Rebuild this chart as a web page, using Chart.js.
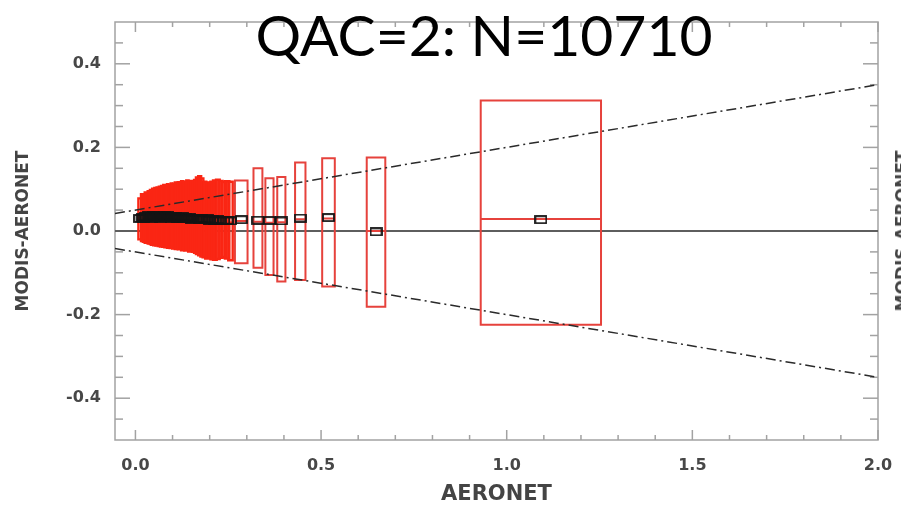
<!DOCTYPE html>
<html>
<head>
<meta charset="utf-8">
<script src="https://cdn.jsdelivr.net/npm/chart.js@4.4.0/dist/chart.umd.min.js"></script>
<style>
  html, body { margin: 0; padding: 0; background: #fff; overflow: hidden; }
  #wrap { position: relative; width: 901px; height: 507px; overflow: hidden; }
  #c { position: absolute; left: 0; top: 0; }
  #title {
    position: absolute; left: 484px; top: 6px; transform: translateX(-50%);
    font-family: Lato, "Open Sans", sans-serif; font-size: 57px; line-height: 57px;
    white-space: nowrap; color: #000;
  }
  #rightLabel {
    position: absolute; left: 902px; top: 231px;
    transform: translate(-50%, -50%) rotate(-90deg);
    font-family: "DejaVu Sans", sans-serif; font-weight: bold; font-size: 17px; line-height: 20px;
    white-space: nowrap; color: #444;
  }
</style>
</head>
<body>
<div id="wrap">
  <canvas id="c" width="901" height="507"></canvas>
  <div id="title">QAC=2: N=10710</div>
  <div id="rightLabel">MODIS-AERONET</div>
</div>
<script>
// Binned MODIS-AERONET differences: mean AERONET AOD of each bin, its spread (±1 sd),
// the mean and median difference, and the box limits of the difference.
const binX = [
  0.012,0.018,0.023,0.027,0.031,0.035,0.038,0.041,0.044,0.047,
  0.050,0.053,0.056,0.059,0.062,0.065,0.068,0.071,0.074,0.077,
  0.080,0.083,0.087,0.090,0.094,0.097,0.101,0.105,0.109,0.113,
  0.117,0.121,0.126,0.130,0.135,0.140,0.145,0.150,0.155,0.161,
  0.167,0.173,0.179,0.186,0.193,0.200,0.207,0.214,0.222,0.230,
  0.238,0.247,0.256,
  0.285,0.330,0.361,0.393,0.444,0.520,0.648,1.092
];
const binXSd = [
  0.004,0.003,0.003,0.002,0.002,0.002,0.002,0.002,0.002,0.002,
  0.002,0.002,0.002,0.002,0.002,0.002,0.002,0.002,0.002,0.002,
  0.002,0.002,0.002,0.002,0.002,0.002,0.002,0.003,0.003,0.003,
  0.003,0.003,0.003,0.003,0.003,0.003,0.003,0.003,0.003,0.003,
  0.004,0.004,0.004,0.005,0.005,0.005,0.005,0.005,0.005,0.005,
  0.006,0.006,0.006,
  0.017,0.012,0.011,0.011,0.014,0.017,0.025,0.162
];
const binYMean = [
  0.030,0.033,0.031,0.034,0.032,0.036,0.033,0.035,0.031,0.034,
  0.036,0.032,0.035,0.033,0.037,0.034,0.031,0.035,0.033,0.036,
  0.032,0.034,0.037,0.033,0.035,0.031,0.034,0.032,0.035,0.030,
  0.033,0.031,0.034,0.029,0.032,0.030,0.033,0.028,0.031,0.029,
  0.030,0.028,0.030,0.027,0.029,0.026,0.028,0.025,0.027,0.024,
  0.026,0.025,0.024,
  0.027,0.026,0.025,0.024,0.031,0.032,-0.002,0.027
];
const binYMedian = [
  0.026,0.030,0.027,0.031,0.028,0.032,0.029,0.031,0.028,0.030,
  0.032,0.029,0.031,0.029,0.033,0.030,0.028,0.031,0.029,0.032,
  0.028,0.030,0.033,0.029,0.031,0.027,0.030,0.028,0.031,0.026,
  0.029,0.027,0.030,0.025,0.028,0.026,0.029,0.024,0.027,0.025,
  0.026,0.024,0.026,0.023,0.025,0.022,0.024,0.021,0.023,0.020,
  0.022,0.021,0.020,
  0.024,0.022,0.020,0.021,0.028,0.030,0.000,0.029
];
const binYLo = [
  -0.020,-0.024,-0.026,-0.028,-0.027,-0.030,-0.029,-0.031,-0.033,-0.030,
  -0.034,-0.032,-0.035,-0.033,-0.036,-0.034,-0.037,-0.035,-0.038,-0.036,
  -0.039,-0.037,-0.040,-0.038,-0.041,-0.039,-0.042,-0.040,-0.043,-0.041,
  -0.044,-0.042,-0.046,-0.044,-0.047,-0.045,-0.049,-0.047,-0.050,-0.052,
  -0.055,-0.058,-0.061,-0.063,-0.066,-0.064,-0.068,-0.069,-0.067,-0.064,
  -0.062,-0.066,-0.070,
  -0.077,-0.088,-0.105,-0.121,-0.117,-0.133,-0.181,-0.224
];
const binYHi = [
  0.078,0.088,0.085,0.092,0.090,0.095,0.093,0.098,0.094,0.101,
  0.097,0.103,0.099,0.104,0.100,0.106,0.102,0.108,0.104,0.110,
  0.105,0.109,0.112,0.107,0.111,0.114,0.109,0.113,0.116,0.112,
  0.117,0.115,0.119,0.116,0.118,0.121,0.117,0.120,0.119,0.122,
  0.128,0.131,0.126,0.118,0.116,0.115,0.118,0.121,0.123,0.120,
  0.117,0.119,0.118,
  0.121,0.150,0.126,0.129,0.164,0.174,0.176,0.312
];

// Expected-error envelope ±(0.05 + 0.15·AOD) at the two ends of the x range
const envX = [-0.055, 2.0];
const envUpper = [0.0418, 0.35];
const envLower = [-0.0418, -0.35];

// Axis ticks
const xMajorTicks = [0.0, 0.5, 1.0, 1.5, 2.0];
const xMinorTicks = [0.1,0.2,0.3,0.4,0.6,0.7,0.8,0.9,1.1,1.2,1.3,1.4,1.6,1.7,1.8,1.9];
const yMajorTicks = [-0.4, -0.2, 0.0, 0.2, 0.4];
const yMinorTicks = [-0.45,-0.35,-0.3,-0.25,-0.15,-0.1,-0.05,0.05,0.1,0.15,0.25,0.3,0.35,0.45];

const X_MIN = -0.055, X_MAX = 2.0, Y_MIN = -0.5, Y_MAX = 0.5;

// Box outline with the median line across it
const boxDatasets = binX.map((x, i) => {
  const lo = x - binXSd[i], hi = x + binXSd[i];
  const wide = binXSd[i] > 0.008;
  return {
    data: [
      {x: lo, y: binYLo[i]}, {x: lo, y: binYHi[i]}, {x: hi, y: binYHi[i]},
      {x: hi, y: binYLo[i]}, {x: lo, y: binYLo[i]},
      {x: lo, y: binYMedian[i]}, {x: hi, y: binYMedian[i]}
    ],
    showLine: true,
    borderColor: wide ? '#e6423c' : '#fa2614',
    borderWidth: wide ? 2 : 2.4,
    pointRadius: 0, fill: false, tension: 0,
    borderJoinStyle: 'miter', borderCapStyle: 'butt', order: 30
  };
});

// Small open rectangle used for the bin means
const meanMarker = document.createElement('canvas');
meanMarker.width = 13; meanMarker.height = 9;
(function () {
  const g = meanMarker.getContext('2d');
  g.strokeStyle = '#141414'; g.lineWidth = 1.8;
  g.strokeRect(1, 1, 11, 7);
})();

const datasets = [
  { data: [{x: X_MIN, y: 0}, {x: X_MAX, y: 0}], showLine: true,
    borderColor: '#5e5e5e', borderWidth: 2.2, pointRadius: 0, order: 40 },
  ...boxDatasets,
  { data: envX.map((x, i) => ({x, y: envUpper[i]})), showLine: true,
    borderColor: '#2a2a2a', borderWidth: 1.5, borderDash: [10, 4, 2, 4],
    pointRadius: 0, order: 20 },
  { data: envX.map((x, i) => ({x, y: envLower[i]})), showLine: true,
    borderColor: '#2a2a2a', borderWidth: 1.5, borderDash: [10, 4, 2, 4],
    pointRadius: 0, order: 20 },
  { data: binX.map((x, i) => ({x, y: binYMean[i]})), showLine: false,
    pointStyle: meanMarker, pointRadius: 5, order: 10 }
];

// Plot frame with inward ticks on all four sides
const frameTicks = {
  id: 'frameTicks',
  beforeDatasetsDraw(chart) {
    const {ctx, chartArea: a, scales: {x, y}} = chart;
    ctx.save();
    ctx.strokeStyle = '#a2a2a2';
    ctx.lineWidth = 1.5;
    ctx.strokeRect(a.left, a.top, a.right - a.left, a.bottom - a.top);
    const seg = (x1, y1, x2, y2) => { ctx.beginPath(); ctx.moveTo(x1, y1); ctx.lineTo(x2, y2); ctx.stroke(); };
    const xt = (vals, len) => vals.forEach(v => {
      const p = x.getPixelForValue(v);
      seg(p, a.bottom, p, a.bottom - len);
      seg(p, a.top, p, a.top + len);
    });
    const yt = (vals, len) => vals.forEach(v => {
      const p = y.getPixelForValue(v);
      seg(a.left, p, a.left + len, p);
      seg(a.right, p, a.right - len, p);
    });
    xt(xMajorTicks, 10); xt(xMinorTicks, 5);
    yt(yMajorTicks, 15); yt(yMinorTicks, 8);
    ctx.restore();
  }
};

const labelFont = {family: 'DejaVu Sans', size: 16, weight: 'bold'};
const noOverhang = s => { s.paddingLeft = 0; s.paddingRight = 0; s.paddingTop = 0; s.paddingBottom = 0; };

new Chart(document.getElementById('c'), {
  type: 'scatter',
  data: { datasets },
  options: {
    responsive: false,
    animation: false,
    devicePixelRatio: 1,
    layout: { padding: { left: 0, right: 23, top: 22, bottom: 0 } },
    plugins: { legend: { display: false }, tooltip: { enabled: false }, title: { display: false } },
    scales: {
      x: {
        type: 'linear', min: X_MIN, max: X_MAX,
        afterBuildTicks: s => { s.ticks = xMajorTicks.map(v => ({value: v})); },
        afterFit: s => { s.height = 67; noOverhang(s); },
        grid: { display: false, drawTicks: false },
        border: { display: false },
        ticks: { padding: 16, color: '#474747', font: labelFont, autoSkip: false, maxRotation: 0,
                 callback: v => Number(v).toFixed(1) },
        title: { display: true, text: 'AERONET', color: '#444',
                 font: {family: 'DejaVu Sans', size: 21, weight: 'bold'}, padding: {top: 0, bottom: 0} }
      },
      y: {
        type: 'linear', min: Y_MIN, max: Y_MAX,
        afterBuildTicks: s => { s.ticks = yMajorTicks.map(v => ({value: v})); },
        afterFit: s => { s.width = 115; noOverhang(s); },
        grid: { display: false, drawTicks: false },
        border: { display: false },
        ticks: { padding: 14, color: '#474747', font: labelFont, autoSkip: false,
                 callback: v => Number(v).toFixed(1) },
        title: { display: true, text: 'MODIS-AERONET', color: '#444',
                 font: {family: 'DejaVu Sans', size: 17, weight: 'bold'}, padding: {top: 13, bottom: 0} }
      }
    }
  },
  plugins: [frameTicks]
});
</script>
</body>
</html>
